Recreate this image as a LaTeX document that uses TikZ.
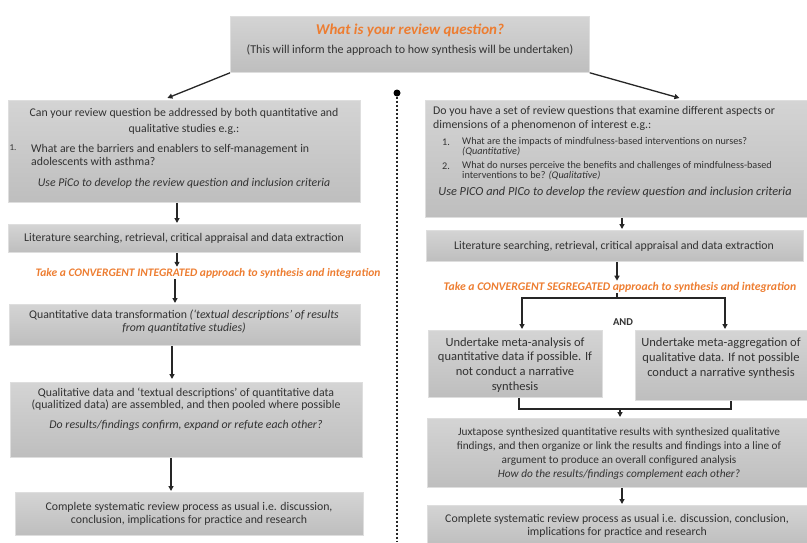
\documentclass[tikz,border=0pt]{standalone}
\usepackage{fontspec}
\setmainfont{Carlito}
\usetikzlibrary{arrows.meta}
\definecolor{boxtop}{RGB}{212,212,212}
\definecolor{boxbot}{RGB}{190,190,190}
\definecolor{boxedge}{RGB}{222,222,222}
\definecolor{txtgray}{RGB}{50,50,50}
\definecolor{orng}{RGB}{237,125,49}
\begin{document}
\begin{tikzpicture}[x=1pt,y=-1pt,
 box/.style={draw=boxedge, top color=boxtop, bottom color=boxbot, anchor=north west, inner sep=0pt, line width=0.8pt},
 txt/.style={text=txtgray, inner sep=0pt, font=\fontsize{11.8}{13}\selectfont},
 small/.style={text=txtgray, inner sep=0pt, font=\fontsize{10.2}{10}\selectfont},
 conv/.style={text=orng, inner sep=1pt, font=\fontsize{11.5}{12}\selectfont\bfseries\itshape},
 arr/.style={-{Triangle[length=5pt,width=5pt]}, line width=1.3pt, draw=black!85},
 ln/.style={line width=1.3pt, draw=black!85},
 dotline/.style={line width=2.2pt, dash pattern=on 2pt off 2pt, draw=black!85}
]
\useasboundingbox (0,0) rectangle (807,542);

% top box
\node[box, minimum width=359pt, minimum height=56pt] (top) at (230,16) {};
\node[text=orng, inner sep=0pt, font=\fontsize{15}{17}\selectfont\bfseries\itshape] (ttl) at (410,30) {What is your review question?};
\node[txt, font=\fontsize{12}{13}\selectfont] (tsub) at (410,50) {(This will inform the approach to how synthesis will be undertaken)};

% dotted separator
\node[circle, fill=black, inner sep=0pt, minimum size=7pt] (dot) at (397,93) {};
\coordinate (dotend) at (397,542);
\draw[dotline] (dot) -- (dotend);

% arrow x positions
\coordinate (a1) at (177,0);
\coordinate (a2) at (175,0);
\coordinate (a3) at (172,0);
\coordinate (a4) at (171,0);
\coordinate (b1) at (622,0);
\coordinate (b2) at (617,0);
\coordinate (b3) at (622,0);

% ---------------- left column ----------------
\node[box, minimum width=352pt, minimum height=102pt] (L1) at (8,100) {};
\node[txt, align=center, font=\fontsize{11.8}{16}\selectfont] (L1a) at (184,121) {Can your review question be addressed by both quantitative and\\qualitative studies e.g.:};
\node[small, font=\fontsize{9}{10}\selectfont] (L1n) at (13,148) {1.};
\node[txt, align=left, anchor=west] (L1b) at (31,154.5) {What are the barriers and enablers to self-management in\\adolescents with asthma?};
\node[txt, font=\fontsize{11.8}{13}\selectfont\itshape] (L1c) at (184,183) {Use PiCo to develop the review question and inclusion criteria};

\node[box, minimum width=352pt, minimum height=28pt] (L2) at (8,224) {};
\node[txt] (L2t) at (184,238) {Literature searching, retrieval, critical appraisal and data extraction};

\node[conv] (conv1) at (208,273) {Take a CONVERGENT INTEGRATED approach to synthesis and integration};

\node[box, minimum width=351pt, minimum height=41pt] (L3) at (9,304) {};
\node[txt, align=center, font=\fontsize{11.8}{13}\selectfont] (L3t) at (184,321.5) {Quantitative data transformation \textit{(`textual descriptions' of results}\\\textit{from quantitative studies)}};

\node[box, minimum width=352pt, minimum height=75pt] (L4) at (10,382) {};
\node[txt, align=center, font=\fontsize{11.8}{12.5}\selectfont] (L4t) at (186,399) {Qualitative data and `textual descriptions' of quantitative data\\(qualitized data) are assembled, and then pooled where possible};
\node[txt, font=\fontsize{11.8}{13}\selectfont\itshape] (L4i) at (186,425) {Do results/findings confirm, expand or refute each other?};

\node[box, minimum width=348pt, minimum height=43pt] (L5) at (15,492) {};
\node[txt, align=center, font=\fontsize{11.8}{12.5}\selectfont] (L5t) at (189,514) {Complete systematic review process as usual i.e. discussion,\\conclusion, implications for practice and research};

\draw[arr] (top.south west) -- ([xshift=-17pt,yshift=2pt]L1.north);
\draw[arr] (L1.south -| a1) -- ([yshift=1pt]L2.north -| a1);
\draw[arr] (L2.south -| a1) -- (conv1.north -| a1);
\draw[arr] (conv1.south -| a2) -- ([yshift=1pt]L3.north -| a2);
\draw[arr] (L3.south -| a3) -- ([yshift=3pt]L4.north -| a3);
\draw[arr] (L4.south -| a4) -- ([yshift=1pt]L5.north -| a4);

% ---------------- right column ----------------
\node[box, minimum width=382pt, minimum height=117pt] (R1) at (425,100) {};
\node[txt, align=left, anchor=north west, font=\fontsize{11.8}{14}\selectfont] (R1a) at (433,106) {Do you have a set of review questions that examine different aspects or\\dimensions of a phenomenon of interest e.g.:};
\node[small] (R1n1) at (446,142) {1.};
\node[small, align=left, anchor=west] (R1b) at (462,146.5) {What are the  impacts of mindfulness-based  interventions on nurses?\\\textit{(Quantitative)}};
\node[small] (R1n2) at (446,166) {2.};
\node[small, align=left, anchor=west] (R1c) at (462,170.5) {What do nurses perceive the benefits and challenges of mindfulness-based\\interventions to be?  \textit{(Qualitative)}};
\node[txt, font=\fontsize{12.3}{13}\selectfont\itshape] (R1d) at (615,192) {Use PICO and PICo to develop the review question and inclusion criteria};

\node[box, minimum width=377pt, minimum height=31pt] (R2) at (426,230) {};
\node[txt] (R2t) at (614,246) {Literature searching, retrieval, critical appraisal and data extraction};

\node[conv, font=\fontsize{11.7}{13}\selectfont\bfseries\itshape] (conv2) at (620,287) {Take a CONVERGENT SEGREGATED approach to synthesis and integration};

\node[box, minimum width=174pt, minimum height=67pt] (R3a) at (428,330) {};
\node[txt, align=center, font=\fontsize{12.5}{14.7}\selectfont] (R3at) at (515,365) {Undertake meta-analysis of\\quantitative data if possible. If\\not conduct a narrative\\synthesis};
\node[box, minimum width=172pt, minimum height=70pt] (R3b) at (635,330) {};
\node[txt, align=center, font=\fontsize{12.5}{15}\selectfont] (R3bt) at (721,358) {Undertake meta-aggregation of\\qualitative data. If not possible\\conduct a narrative synthesis};
\node[text=txtgray, inner sep=0pt, font=\fontsize{10.5}{11}\selectfont\bfseries] (and) at (623,322) {AND};

\node[box, minimum width=380pt, minimum height=69pt] (R4) at (427,418) {};
\node[txt, align=center, font=\fontsize{11.3}{14}\selectfont] (R4t) at (619,454) {Juxtapose synthesized quantitative results with synthesized qualitative\\findings, and then organize or link the results and findings into a line of\\argument to produce an overall configured analysis\\\textit{How do the results/findings complement each other?}};

\node[box, minimum width=380pt, minimum height=40pt] (R5) at (427,505) {};
\node[txt, align=center, font=\fontsize{11.8}{13}\selectfont] (R5t) at (617,525.5) {Complete systematic review process as usual i.e. discussion, conclusion,\\implications for practice and research};

\draw[arr] (top.south east) -- ([xshift=63pt,yshift=2pt]R1.north);
\draw[arr] (R1.south -| b1) -- ([yshift=1pt]R2.north -| b1);
\draw[arr] (R2.south -| b2) -- (conv2.north -| b2);
\coordinate (split) at (617,298);
\coordinate (sl) at (522,298);
\coordinate (sr) at (725,298);
\draw[ln] (conv2.south -| b2) -- (split);
\draw[ln] ([xshift=-0.65pt]sl) -- ([xshift=0.65pt]sr);
\draw[arr] (sl) -- ([yshift=1pt]R3a.north -| sl);
\draw[arr] (sr) -- ([yshift=1pt]R3b.north -| sr);
\coordinate (jl) at (519,409);
\coordinate (jr) at (731,409);
\coordinate (join) at (620,409);
\draw[ln] (R3a.south -| jl) -- (jl) -- (jr) -- (R3b.south -| jr);
\draw[arr] (join) -- ([yshift=1pt]R4.north -| join);
\draw[arr] (R4.south -| b3) -- ([yshift=1pt]R5.north -| b3);
\end{tikzpicture}
\end{document}
